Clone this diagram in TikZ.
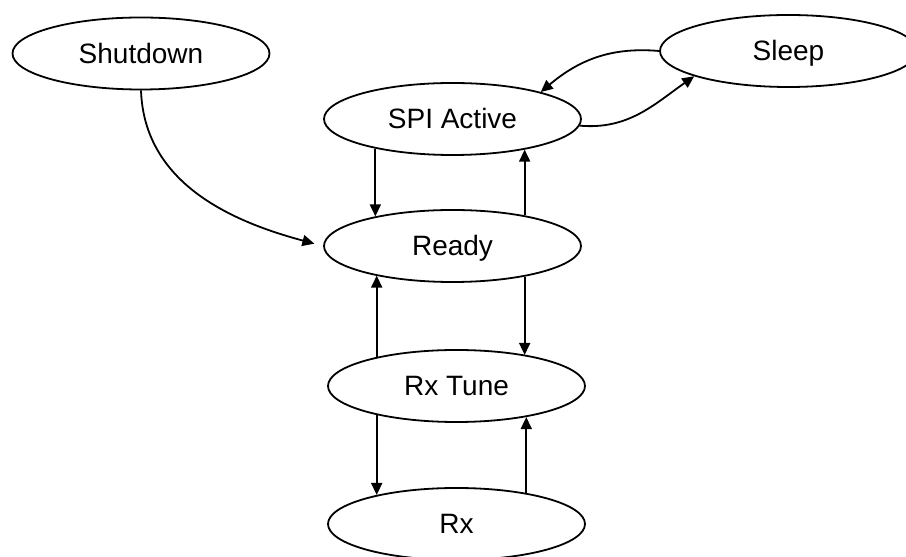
\documentclass[tikz,border=0pt]{standalone}
\usepackage{fontspec}
\setmainfont{Liberation Sans}
\usetikzlibrary{arrows.meta,shapes.geometric}

\begin{document}
\begin{tikzpicture}[x=1pt,y=1pt,line width=1.8pt,
	>={Triangle[length=12pt,width=11pt]},
	state/.style={ellipse,draw,minimum width=257pt,minimum height=72pt,inner sep=0pt,
		text height=20pt,text depth=0pt,font=\fontsize{28}{34}\selectfont}]
			\useasboundingbox (0,0) rectangle (906,557);
			
			\node [state] (shutdown) at (141,503.5) {Shutdown};
			\node [state] (sleep) at (788.5,506) {Sleep};
			\node [state] (spi) at (452.5,438) {SPI Active};
			\node [state] (ready) at (452.5,311) {Ready};
			\node [state] (rxtune) at (456.5,171) {Rx Tune};
			\node [state] (rx) at (456.5,33) {Rx};
			
			\draw [shorten >= 9pt,->] (shutdown.south) to [out=-88, in=165] (ready.west);
			
			\draw [->] (sleep.west) to [out=175, in=40] (spi.17);
			\draw [->] (spi.-3) to [out=-5, in=215] (sleep.195);
			
			\draw [->] (spi.201) to (spi.201 |- ready.159);
			\draw [->] (ready.23) to (ready.23 |- spi.337);
			
			\draw [->] (ready.337) to (ready.337 |- rxtune.24);
			\draw [->] (rxtune.160) to (rxtune.160 |- ready.201);
			
			\draw [->] (rxtune.200) to (rxtune.200 |- rx.160);
			\draw [->] (rx.24) to (rx.24 |- rxtune.336);
			\end{tikzpicture}
\end{document}
